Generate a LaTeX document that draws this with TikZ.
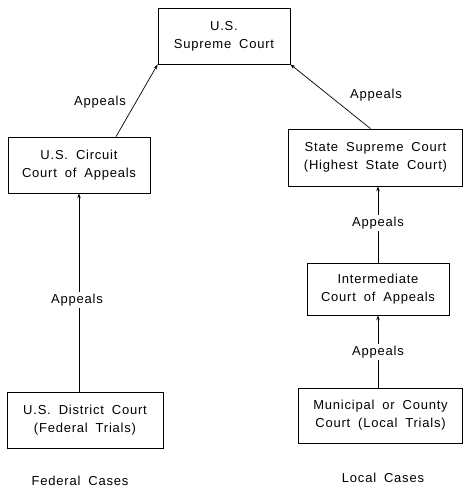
\documentclass[tikz,border=0pt]{standalone}
\usepackage{fontspec}
\setmainfont{Liberation Sans}[LetterSpace=6,WordSpace=1.8]
\usetikzlibrary{arrows.meta}
\begin{document}
\begin{tikzpicture}[x=1pt,y=-1pt,
  court/.style={draw,line width=0.7pt,align=center,inner sep=0pt,font=\fontsize{13}{18}\selectfont},
  lbl/.style={font=\fontsize{13}{16}\selectfont,inner sep=1.5pt},
  arr/.style={line width=0.7pt,-{Stealth[length=5pt,width=3.5pt]}}]
\useasboundingbox (0,0) rectangle (464,489);
\node[court,minimum width=132pt,minimum height=56pt] (sc) at (224,36) {U.S.\\Supreme Court};
\node[court,minimum width=142pt,minimum height=56pt] (circ) at (79,165) {U.S. Circuit\\Court of Appeals};
\node[court,minimum width=174pt,minimum height=57pt] (state) at (375.5,157.5) {State Supreme Court\\(Highest State Court)};
\node[court,minimum width=156pt,minimum height=56pt] (dist) at (85,420) {U.S. District Court\\(Federal Trials)};
\node[court,minimum width=142pt,minimum height=52pt] (inter) at (378,289) {Intermediate\\Court of Appeals};
\node[court,minimum width=164pt,minimum height=55pt] (muni) at (380.5,415.5) {Municipal or County\\Court (Local Trials)};

\draw[arr] ([xshift=37pt]circ.north) -- (sc.south west);
\draw[arr] ([xshift=-5pt]state.north) -- (sc.south east);
\draw[arr] (circ.south |- dist.north) -- (circ.south);
\draw[arr] (inter.north) -- (inter.north |- state.south);
\draw[arr] (muni.north -| inter.south) -- (inter.south);

\node[lbl] (l1) at (100,102) {Appeals};
\node[lbl] (l2) at (376,95) {Appeals};
\node[lbl,fill=white] (l3) at (77,300) {Appeals};
\node[lbl,fill=white] (l4) at (378,223) {Appeals};
\node[lbl,fill=white] (l5) at (378,352) {Appeals};

\node[lbl] (fed) at (80,481) {Federal Cases};
\node[lbl] (loc) at (383,478) {Local Cases};
\end{tikzpicture}
\end{document}
